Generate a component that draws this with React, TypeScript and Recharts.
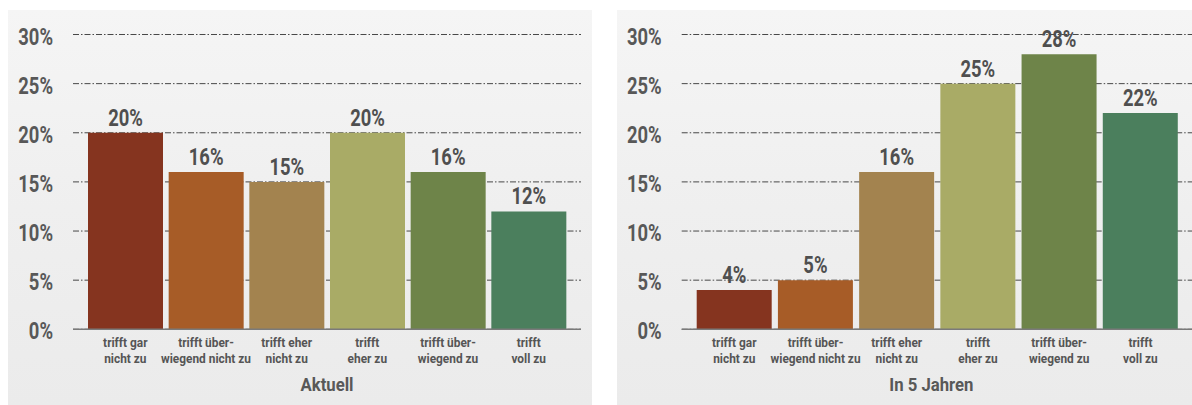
import React from "react";
import { BarChart, Bar, XAxis, YAxis, CartesianGrid, Cell, LabelList } from "recharts";

const categories = [
  "trifft gar\nnicht zu",
  "trifft über-\nwiegend nicht zu",
  "trifft eher\nnicht zu",
  "trifft\neher zu",
  "trifft über-\nwiegend zu",
  "trifft\nvoll zu",
];
const aktuellValues = [20, 16, 15, 20, 16, 12];
const in5JahrenValues = [4, 5, 16, 25, 28, 22];
const barColors = ["#85341f", "#a75c27", "#a3834f", "#a9ab66", "#6e8449", "#4b7f5d"];
const yTicks = [0, 5, 10, 15, 20, 25, 30];
const titles = ["Aktuell", "In 5 Jahren"];

const FONT = "Roboto, 'DejaVu Sans', sans-serif";
const TEXT_GRAY = "#585858";
const SQUEEZE = 0.8;

const YTick = (props: any) => {
  const { x, y, payload } = props;
  return (
    <text
      transform={`translate(${x},${y + 10}) scale(${SQUEEZE},1)`}
      textAnchor="end"
      fill={TEXT_GRAY}
      fontFamily={FONT}
      fontWeight="bold"
      fontSize={23}
    >
      {`${payload.value}%`}
    </text>
  );
};

const CatTick = (props: any) => {
  const { x, y, payload } = props;
  const lines = String(payload.value).split("\n");
  return (
    <g transform={`translate(${x},${y}) scale(0.88,1)`}>
      <text x={0} y={0} textAnchor="middle" fill="#555555" fontFamily={FONT} fontWeight="bold" fontSize={13.5}>
        {lines.map((l, i) => (
          <tspan key={i} x={0} dy={i === 0 ? 9.6 : 16.6}>
            {l}
          </tspan>
        ))}
      </text>
    </g>
  );
};

const ValueLabel = (props: any) => {
  const { x, y, width, value } = props;
  return (
    <text
      transform={`translate(${Number(x) + Number(width) / 2},${Number(y) - 7}) scale(${SQUEEZE},1)`}
      textAnchor="middle"
      fill="#4f4f4f"
      fontFamily={FONT}
      fontWeight="bold"
      fontSize={23}
    >
      {`${value}%`}
    </text>
  );
};

const AxisTitle = (props: any) => {
  const { viewBox, text, shift } = props;
  const cx = viewBox.x + viewBox.width / 2 + (shift || 0);
  const by = viewBox.y + 62;
  return (
    <text
      transform={`translate(${cx},${by}) scale(0.88,1)`}
      textAnchor="middle"
      fill={TEXT_GRAY}
      fontFamily={FONT}
      fontWeight="bold"
      fontSize={19}
    >
      {text}
    </text>
  );
};

type PanelProps = {
  values: number[];
  title: string;
  left: number;
  width: number;
  chartWidth: number;
  marginRight: number;
  yAxisWidth: number;
  titleShift: number;
};

const Panel = ({ values, title, left, width, chartWidth, marginRight, yAxisWidth, titleShift }: PanelProps) => {
  const data = categories.map((c, i) => ({ cat: c, v: values[i] }));
  return (
    <div
      style={{
        position: "absolute",
        left,
        top: 10,
        width,
        height: 395,
        background: "linear-gradient(180deg, #f5f5f5 0%, #efefef 50%, #ebebeb 100%)",
        overflow: "hidden",
      }}
    >
      <BarChart
        width={chartWidth}
        height={395}
        data={data}
        margin={{ top: 24.5, right: marginRight, bottom: 13.7, left: 0 }}
        barCategoryGap={3}
      >
        <CartesianGrid vertical={false} stroke="#484848" strokeDasharray="6 2 1.5 2" strokeWidth={1} />
        <YAxis
          width={yAxisWidth}
          domain={[0, 30]}
          ticks={yTicks}
          axisLine={false}
          tickLine={false}
          tickMargin={14}
          tick={<YTick />}
          interval={0}
        />
        <XAxis
          dataKey="cat"
          height={62}
          padding={{ left: 12, right: 12 }}
          axisLine={{ stroke: "#7a7a7a", strokeWidth: 1.5 }}
          tickLine={false}
          interval={0}
          tick={<CatTick />}
          label={<AxisTitle text={title} shift={titleShift} />}
        />
        <Bar dataKey="v" isAnimationActive={false}>
          {data.map((_, i) => (
            <Cell key={i} fill={barColors[i]} />
          ))}
          <LabelList dataKey="v" content={<ValueLabel />} />
        </Bar>
      </BarChart>
    </div>
  );
};

export default function App() {
  return (
    <div style={{ position: "relative", width: 1192, height: 405, background: "#ffffff", overflow: "hidden" }}>
      <style>{`body{margin:0;overflow:hidden;background:#fff}`}</style>
      <Panel values={aktuellValues} title={titles[0]} left={8} width={584} chartWidth={584} marginRight={11} yAxisWidth={65} titleShift={0} />
      <Panel values={in5JahrenValues} title={titles[1]} left={617} width={575} chartWidth={580} marginRight={4} yAxisWidth={64.7} titleShift={-6} />
    </div>
  );
}
